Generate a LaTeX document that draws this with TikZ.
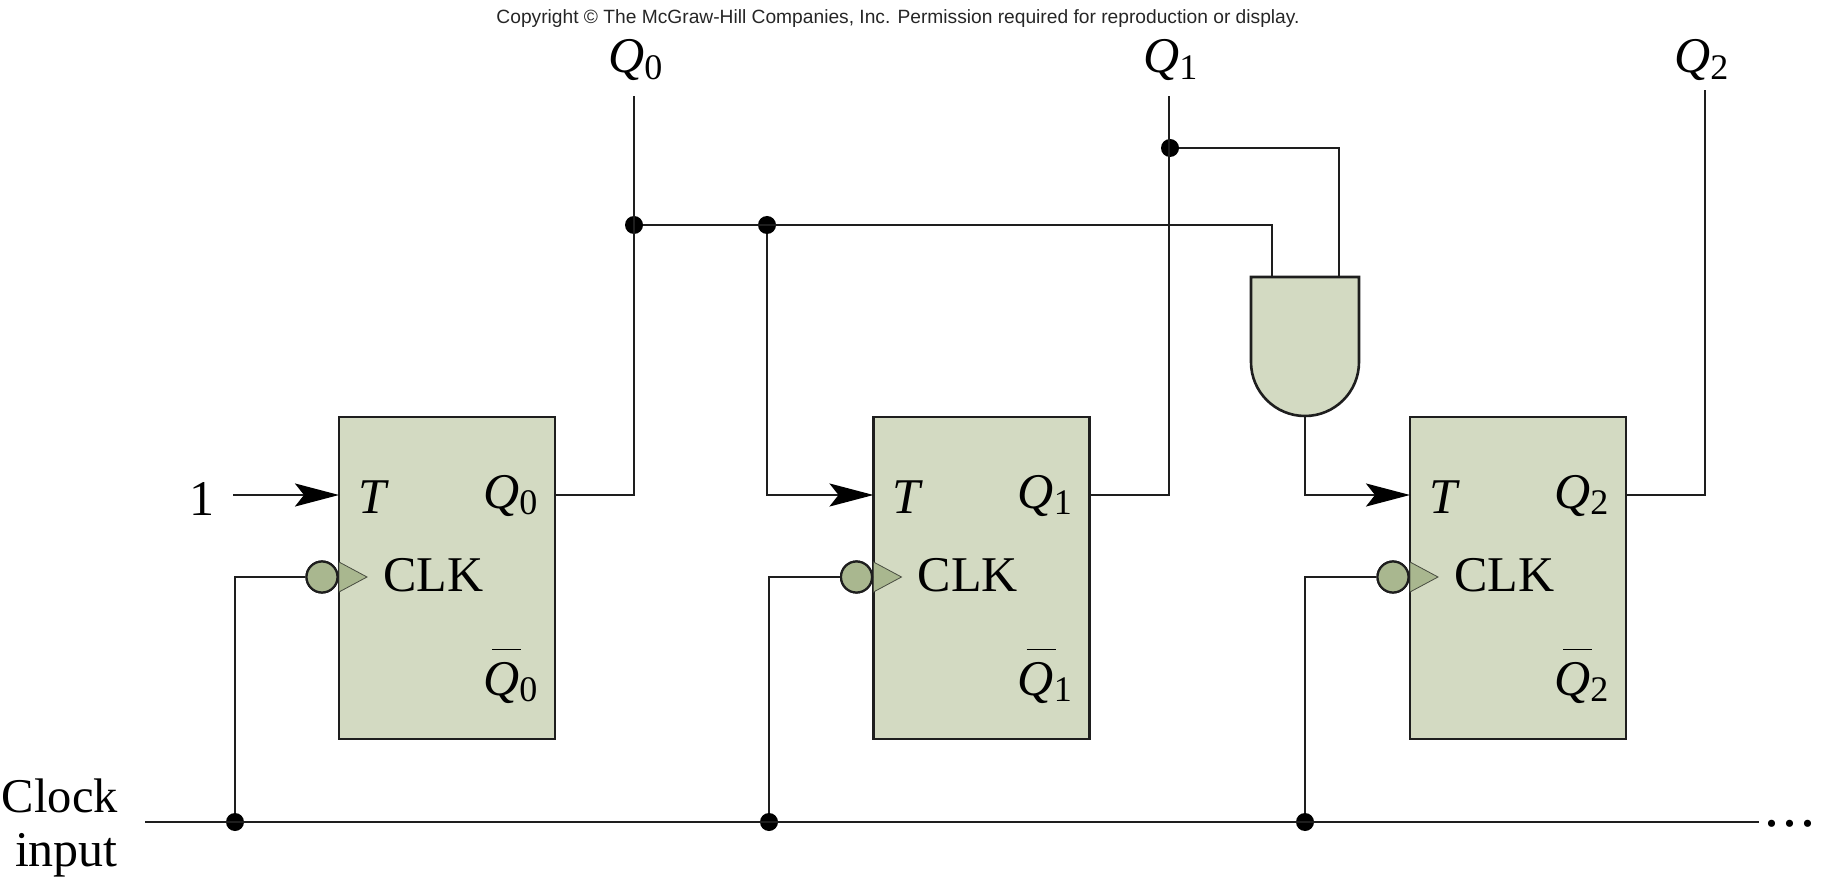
\documentclass[tikz,border=0pt]{standalone}
\usepackage{fontspec}
\setmainfont{Liberation Serif}
\newfontfamily\sansf{Liberation Sans}
\usetikzlibrary{arrows.meta,calc}
\definecolor{ffill}{HTML}{D3DAC2}
\definecolor{bfill}{HTML}{A9B78F}
\definecolor{wire}{HTML}{1E1E1E}
\newcommand{\Qlab}[1]{\textit{Q}{\fontsize{36}{36}\selectfont\raisebox{-6.5pt}{#1}}}
\newcommand{\Qbar}[1]{\rlap{\raisebox{45pt}{\kern9pt\rule{29pt}{1.2pt}}}\Qlab{#1}}
\tikzset{
  x=1pt,y=-1pt,
  wireline/.style={draw=wire,line width=2.4pt,line join=miter},
  ffbox/.style={draw=wire,fill=ffill,line width=2.6pt,minimum width=216pt,minimum height=322pt,inner sep=0pt,outer sep=0pt,anchor=north west},
  bigtext/.style={font=\fontsize{50}{50}\selectfont,inner sep=0pt,text=black},
  junction/.style={circle,fill=black,minimum size=18pt,inner sep=0pt},
  bubble/.style={circle,draw=wire,fill=bfill,line width=2.2pt,minimum size=31pt,inner sep=0pt},
  tri/.style={draw=wire!70!bfill,fill=bfill,line width=0.8pt},
  inarrow/.style={-{Stealth[length=44pt,width=23pt,inset=9pt,color=black]}},
}
\begin{document}
\begin{tikzpicture}
\useasboundingbox (0,0) rectangle (1824,877);
% flip-flops
\node[ffbox] (ff0) at (339,417) {};
\node[ffbox] (ff1) at (873.5,417) {};
\node[ffbox] (ff2) at (1410,417) {};
% gate
\filldraw[fill=ffill,draw=wire,line width=2.6pt,line join=miter]
  (1251,277) -- (1359,277) -- (1359,362) arc[start angle=0,end angle=180,radius=54] -- cycle;
\coordinate (gateA) at (1272,277);
\coordinate (gateB) at (1339,277);
\coordinate (gateY) at (1305,416);
% coordinates
\foreach \i/\x in {0/339,1/873.5,2/1410}{
  \coordinate (t\i) at (\x,495);
  \coordinate (q\i) at (\x+216,495);
  \coordinate (clk\i) at (\x,577);
  \node[bubble] (b\i) at (\x-17,577) {};
}
\coordinate (one) at (233,495);
\coordinate (top0) at (634,96);
\coordinate (top1) at (1169,96);
\coordinate (top2) at (1705,90);
\coordinate (clkL) at (145,822);
\coordinate (clkR) at (1759,822);
\node[junction] (j0) at (634,225) {};
\node[junction] (j1) at (767,225) {};
\node[junction] (j2) at (1170,148) {};
\node[junction] (c0) at (235,822) {};
\node[junction] (c1) at (769,822) {};
\node[junction] (c2) at (1305,822) {};
% wires
\draw[wireline] (clkL) -- (clkR);
\draw[wireline] (q0) -| (top0);
\draw[wireline] (q1) -| (top1);
\draw[wireline] (q2) -| (top2);
\draw[wireline] (j0) -| (gateA);
\draw[wireline] (j2) -| (gateB);
\draw[wireline,inarrow] (one) -- (t0);
\draw[wireline,inarrow] (j1) |- (t1);
\draw[wireline,inarrow] (gateY) |- (t2);
\draw[wireline] (c0) |- (b0);
\draw[wireline] (c1) |- (b1);
\draw[wireline] (c2) |- (b2);
% clock triangles
\foreach \i in {0,1,2}{
  \fill[tri] ($(clk\i)+(0,-15)$) -- ($(clk\i)+(28,0)$) -- ($(clk\i)+(0,15)$) -- cycle;
  \node[bubble] at (b\i) {};
}
% block labels
\foreach \i/\x in {0/339,1/873.5,2/1410}{
  \node[bigtext,anchor=base west] (tl\i) at (\x+19,513) {\textit{T}};
  \node[bigtext,anchor=base west] (cl\i) at (\x+44,591) {CLK};
  \node[bigtext,anchor=base west] (ql\i) at (\x+144,508) {\Qlab{\i}};
  \node[bigtext,anchor=base west] (qb\i) at (\x+144,695) {\Qbar{\i}};
}
% outer labels
\node[bigtext,anchor=base west] (lq0) at (608,73) {\Qlab{0}};
\node[bigtext,anchor=base west] (lq1) at (1143,73) {\Qlab{1}};
\node[bigtext,anchor=base west] (lq2) at (1674,73) {\Qlab{2}};
\node[bigtext] (l1) at (202,499) {1};
\node[bigtext,font=\fontsize{48.5}{48.5}\selectfont,anchor=base east] (lc) at (118,812) {Clock};
\node[bigtext,anchor=base east] (li) at (118,866) {input};
\node[bigtext,font=\fontsize{60}{60}\selectfont,anchor=base] (ld) at (1790,826.5) {.\kern3pt.\kern3pt.};
\node[font=\sansf\fontsize{19.2}{19.2}\selectfont,text=black!85,inner sep=0pt] (cr) at (898,19) {Copyright © The McGraw-Hill Companies, Inc. Permission required for reproduction or display.};
\end{tikzpicture}
\end{document}
